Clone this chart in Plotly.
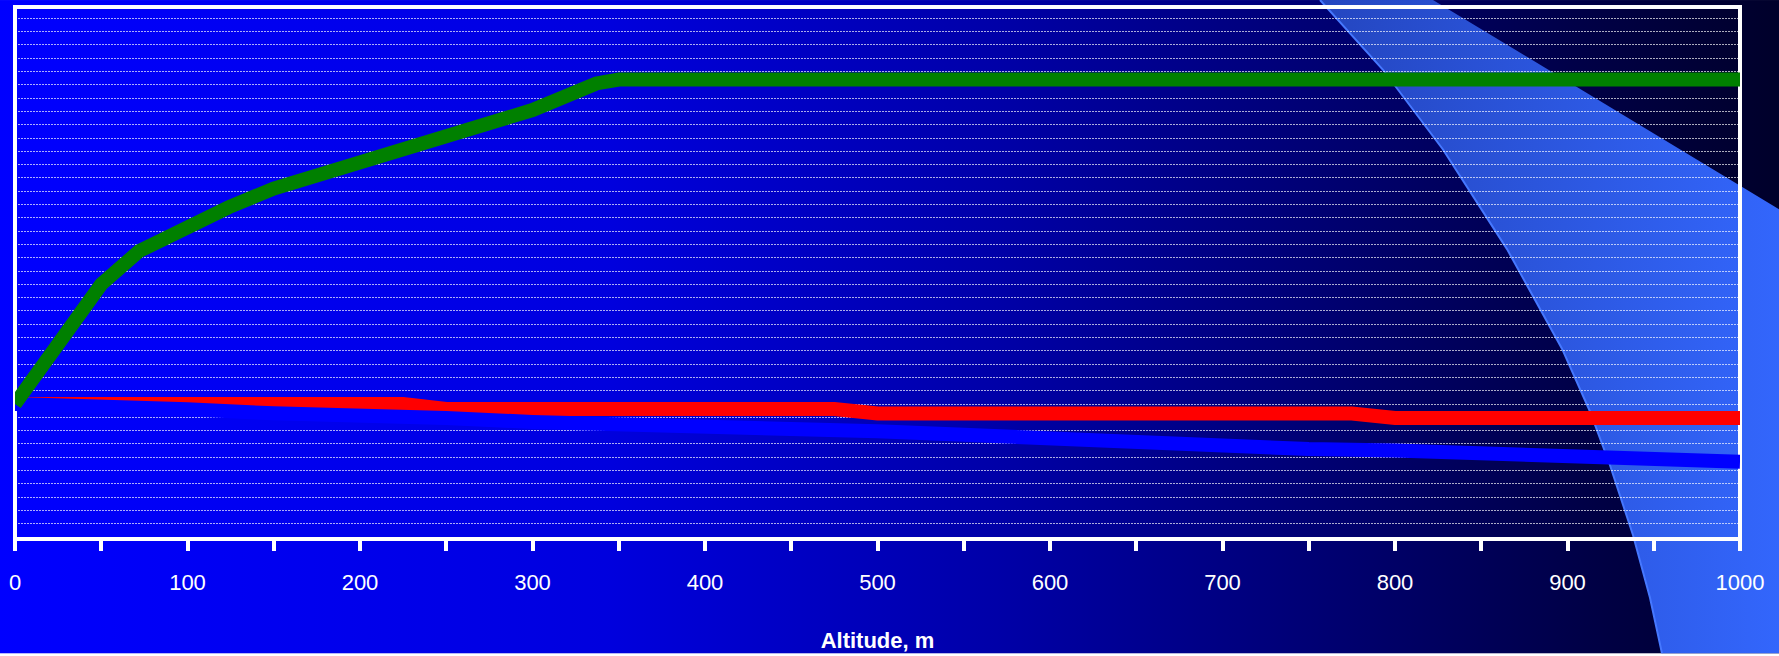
import base64
import plotly.graph_objects as go

# ---------------- data ----------------
green_altitude = [0, 50, 72, 100, 124, 150, 200, 250, 300, 337, 350, 400, 450, 500,
                  550, 600, 650, 700, 750, 800, 850, 900, 950, 1000]
green_values = [10.0, 19.0, 21.5, 23.3, 24.8, 26.2, 28.1, 30.1, 32.1, 34.1, 34.4, 34.4, 34.4, 34.4,
                34.4, 34.4, 34.4, 34.4, 34.4, 34.4, 34.4, 34.4, 34.4, 34.4]

red_altitude = [0, 50, 100, 150, 200, 225, 250, 300, 350, 400, 450, 475, 500, 550,
                600, 650, 700, 750, 775, 800, 850, 900, 950, 1000]
red_values = [10.0, 10.0, 10.0, 10.0, 10.0, 10.0, 9.63, 9.63, 9.63, 9.63, 9.63, 9.63, 9.28, 9.28,
              9.28, 9.28, 9.28, 9.28, 9.28, 8.95, 8.95, 8.95, 8.95, 8.95]

blue_altitude = [0, 50, 100, 150, 200, 250, 300, 350, 400, 450, 500, 550, 600, 650,
                 700, 750, 800, 850, 900, 950, 1000]
blue_values = [10.0, 9.9, 9.6, 9.3, 9.25, 8.95, 8.65, 8.54, 8.35, 8.16, 7.95, 7.68, 7.38, 7.12,
               6.85, 6.61, 6.5, 6.31, 6.03, 5.98, 5.66]

x_tick_values = [0, 100, 200, 300, 400, 500, 600, 700, 800, 900, 1000]
x_tick_labels = ["0", "100", "200", "300", "400", "500", "600", "700", "800", "900", "1000"]
x_title = "Altitude, m"

# ---------------- layout constants ----------------
W, H = 1779, 656
ML, MR, MT, MB = 15, 39, 7, 115
PW, PH = W - ML - MR, H - MT - MB

# background (slide template): horizontal blue gradient + light-blue swoosh
svg = f'''<svg xmlns="http://www.w3.org/2000/svg" width="{W}" height="{H}" viewBox="0 0 {W} {H}">
<defs>
<linearGradient id="bg" x1="0" y1="0" x2="1" y2="0">
<stop offset="0" stop-color="rgb(0,0,255)"/>
<stop offset="0.34" stop-color="rgb(0,0,222)"/>
<stop offset="0.56" stop-color="rgb(0,0,168)"/>
<stop offset="0.73" stop-color="rgb(0,0,118)"/>
<stop offset="0.9" stop-color="rgb(0,0,68)"/>
<stop offset="1" stop-color="rgb(0,0,42)"/>
</linearGradient>
<linearGradient id="band" gradientUnits="userSpaceOnUse" x1="1320" y1="0" x2="1779" y2="0">
<stop offset="0" stop-color="rgb(36,70,192)"/>
<stop offset="1" stop-color="rgb(51,102,252)"/>
</linearGradient>
</defs>
<rect x="0" y="0" width="{W}" height="{H}" fill="url(#bg)"/>
<path d="M1320,0 L1433,0 L1779,210 L1779,656 L1662,656 L1650,600 L1633,537 L1610,467 L1590,413 L1562,350 L1507,250 L1443,150 L1383,70 Z" fill="url(#band)"/>
<path d="M1662,656 L1650,600 L1633,537 L1610,467 L1590,413 L1562,350 L1507,250 L1443,150 L1383,70 L1320,0" fill="none" stroke="rgb(70,120,255)" stroke-width="2"/>
</svg>'''
bg_uri = "data:image/svg+xml;base64," + base64.b64encode(svg.encode()).decode()

fig = go.Figure()
fig.add_trace(go.Scatter(x=red_altitude, y=red_values, mode="lines",
                         line=dict(color="#FF0000", width=14), showlegend=False, hoverinfo="skip"))
fig.add_trace(go.Scatter(x=blue_altitude, y=blue_values, mode="lines",
                         line=dict(color="#0000FF", width=14), showlegend=False, hoverinfo="skip"))
fig.add_trace(go.Scatter(x=green_altitude, y=green_values, mode="lines",
                         line=dict(color="#008000", width=14), showlegend=False, hoverinfo="skip"))

fig.add_layout_image(dict(source=bg_uri, xref="paper", yref="paper",
                          x=-ML / PW, y=1 + MT / PH, sizex=W / PW, sizey=H / PH,
                          xanchor="left", yanchor="top", sizing="stretch", layer="below"))

# plot border
fig.add_shape(type="rect", xref="paper", yref="paper", x0=0, y0=0, x1=1, y1=1,
              line=dict(color="white", width=4), layer="between")

fig.update_layout(
    width=W, height=H,
    margin=dict(l=ML, r=MR, t=MT, b=MB, pad=0),
    paper_bgcolor="rgba(0,0,0,0)", plot_bgcolor="rgba(0,0,0,0)",
    font=dict(family="Arial, 'Liberation Sans', sans-serif", color="white"),
    xaxis=dict(range=[0, 1000], tickmode="array", tickvals=x_tick_values, ticktext=x_tick_labels,
               ticks="outside", ticklen=11, tickwidth=4, tickcolor="white", ticklabelstandoff=13,
               minor=dict(dtick=50, ticks="outside", ticklen=11, tickwidth=4, tickcolor="white", showgrid=False),
               tickfont=dict(size=22, color="white"),
               showgrid=False, zeroline=False, showline=False,
               title=dict(text=x_title, font=dict(size=22, color="white", weight="bold"), standoff=38)),
    yaxis=dict(range=[-0.15, 39.85], dtick=1, tick0=0, showticklabels=False, ticks="",
               showgrid=True, gridcolor="rgba(255,255,255,0.68)", gridwidth=1, griddash="2px,1px",
               zeroline=False, showline=False),
)

fig.write_html("out.html", config={"displayModeBar": False},
               post_script="document.body.style.margin='0';")
